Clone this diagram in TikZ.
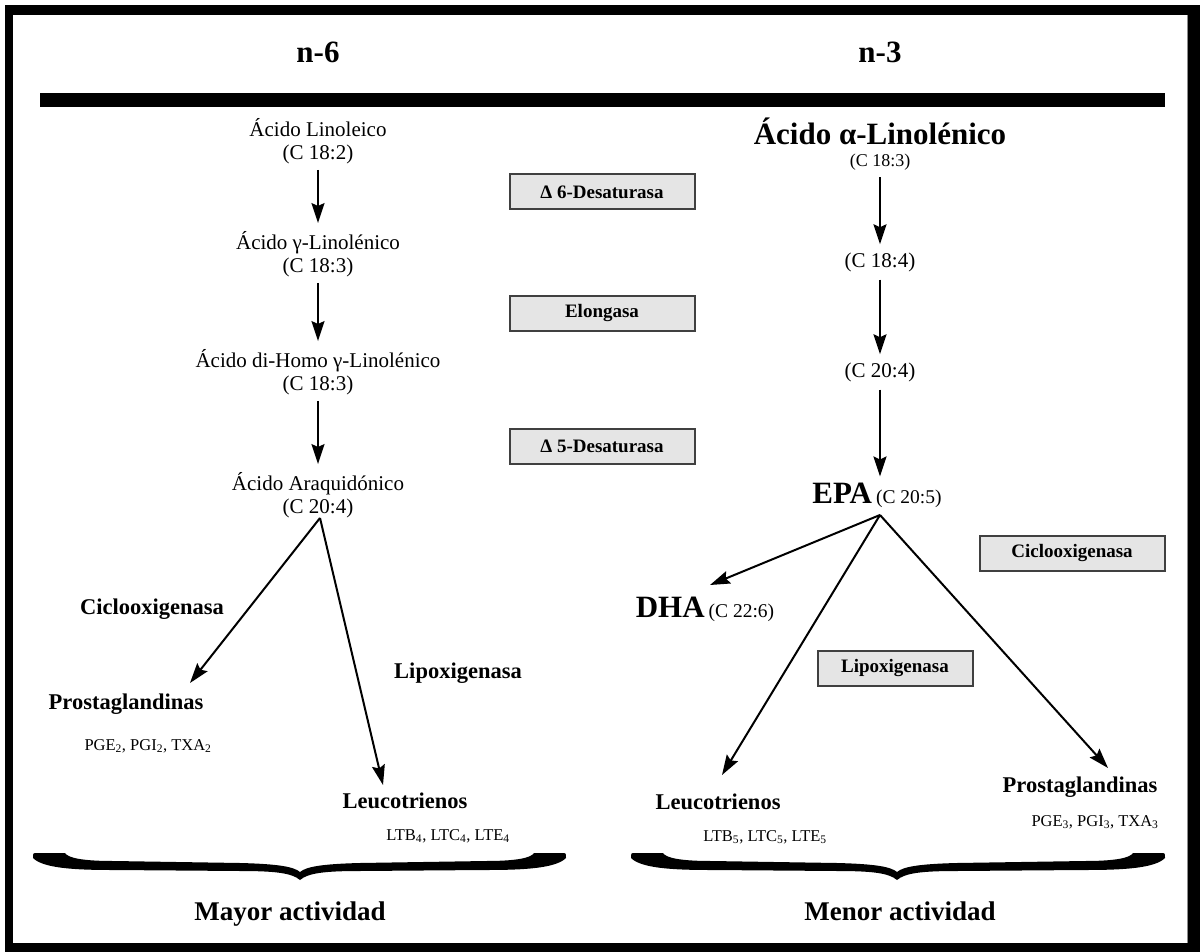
\documentclass[tikz,border=0pt]{standalone}
\usepackage{fontspec}
\setmainfont{Liberation Serif}
\usetikzlibrary{arrows.meta}
\begin{document}
\begin{tikzpicture}[x=1pt,y=-1pt,
  txt/.style={font=\fontsize{21}{23}\selectfont, align=center, inner sep=0pt},
  lbl/.style={font=\fontsize{22.5}{26}\selectfont\bfseries, inner sep=0pt},
  sml/.style={font=\fontsize{16.5}{19}\selectfont, inner sep=0pt},
  head/.style={font=\fontsize{31}{34}\selectfont\bfseries, inner sep=0pt},
  foot/.style={font=\fontsize{27}{31}\selectfont\bfseries, inner sep=0pt, anchor=base},
  enz/.style={draw=black!75, fill=black!10, line width=2pt, minimum width=185pt, minimum height=35pt, inner sep=0pt, font=\fontsize{19}{22}\selectfont\bfseries},
  arr/.style={-{Stealth[length=20pt,width=13pt,inset=3pt]}, line width=2pt}]
\useasboundingbox (0,0) rectangle (1200,952);
% frame
\fill[black] (5,5) rectangle (1200,952);
\fill[white] (13,15) rectangle (1188,943);
\draw[black!45, line width=1pt] (1187,15) -- (1187,943);
% headers
\node[head] (n6) at (318,52) {n-6};
\node[head] (n3) at (880,52) {n-3};
\fill[black] (40,93) rectangle (1165,107);
% left column
\node[txt] (L1) at (318,141) {Ácido Linoleico\\(C 18:2)};
\node[txt] (L2) at (318,254) {Ácido γ-Linolénico\\(C 18:3)};
\node[txt] (L3) at (318,372) {Ácido di-Homo γ-Linolénico\\(C 18:3)};
\node[txt] (L4) at (318,495) {Ácido Araquidónico\\(C 20:4)};
\draw[arr, shorten <=6pt, shorten >=8pt] (L1.south) -- (L2.north);
\draw[arr, shorten <=6pt, shorten >=8pt] (L2.south) -- (L3.north);
\draw[arr, shorten <=6pt, shorten >=8pt] (L3.south) -- (L4.north);
\node[lbl] (cicl) at (152,609) {Ciclooxigenasa};
\node[lbl] (lipl) at (458,673) {Lipoxigenasa};
\node[lbl] (pgl) at (126,704) {Prostaglandinas};
\node[sml] (pgls) at (148,746) {PGE\textsubscript{2}, PGI\textsubscript{2}, TXA\textsubscript{2}};
\node[lbl] (ltl) at (405,801) {Leucotrienos};
\node[sml] (ltls) at (448,836) {LTB\textsubscript{4}, LTC\textsubscript{4}, LTE\textsubscript{4}};
\coordinate (lfan) at (320,518);
\coordinate (pgltip) at (190,683);
\coordinate (ltltip) at (383,785);
\draw[arr] (lfan) -- (pgltip);
\draw[arr] (lfan) -- (ltltip);
% enzyme boxes
\node[enz] (d6) at (602,192) {Δ 6-Desaturasa};
\node[enz] (elo) at (602,313) {Elongasa};
\node[enz] (d5) at (602,446) {Δ 5-Desaturasa};
\node[enz] (cicr) at (1072,553) {Ciclooxigenasa};
\node[enz, minimum width=155pt] (lipr) at (895,668) {Lipoxigenasa};
% right column
\node[font=\fontsize{31}{34}\selectfont\bfseries, inner sep=0pt] (R1) at (880,131) {Ácido α-Linolénico};
\node[font=\fontsize{18}{20}\selectfont, inner sep=0pt] (R1b) at (880,162) {(C 18:3)};
\node[txt] (R2) at (880,262) {(C 18:4)};
\node[txt] (R3) at (880,372) {(C 20:4)};
\node[inner sep=0pt] (epa) at (877,495) {{\fontsize{31}{34}\selectfont\bfseries EPA}\hspace{4pt}{\fontsize{19.5}{22}\selectfont (C 20:5)}};
\draw[arr, shorten <=7pt, shorten >=8pt] (R1b.south) -- (R2.north);
\draw[arr, shorten <=8pt, shorten >=8pt] (R2.south) -- (R3.north);
\draw[arr, shorten <=8pt, shorten >=6pt] (R3.south) -- (R3.south |- epa.north);
\node[inner sep=0pt] (dha) at (705,609) {{\fontsize{31}{34}\selectfont\bfseries DHA}\hspace{4pt}{\fontsize{19.5}{22}\selectfont (C 22:6)}};
\node[lbl] (ltr) at (718,802) {Leucotrienos};
\node[sml] (ltrs) at (765,837) {LTB\textsubscript{5}, LTC\textsubscript{5}, LTE\textsubscript{5}};
\node[lbl] (pgr) at (1080,787) {Prostaglandinas};
\node[sml] (pgrs) at (1095,822) {PGE\textsubscript{3}, PGI\textsubscript{3}, TXA\textsubscript{3}};
\coordinate (rfan) at (880,515);
\coordinate (dhatip) at (710,585);
\coordinate (ltrtip) at (722,775);
\coordinate (pgrtip) at (1108,768);
\draw[arr] (rfan) -- (dhatip);
\draw[arr] (rfan) -- (ltrtip);
\draw[arr] (rfan) -- (pgrtip);
% braces
\foreach \xl/\xm/\xr in {33/300/566, 631/897/1165}{
  \fill[black] (\xl,858) .. controls (\xl,853) .. (\xl+4,853) -- (\xl+32,853)
    .. controls (\xl+35,858) and (\xl+50,861) .. (\xl+80,861)
    -- (\xm-60,863) .. controls (\xm-20,864) and (\xm-6,867) .. (\xm,872)
    .. controls (\xm+6,867) and (\xm+20,864) .. (\xm+60,863)
    -- (\xr-80,861) .. controls (\xr-50,861) and (\xr-35,858) .. (\xr-32,853)
    -- (\xr-4,853) .. controls (\xr,853) .. (\xr,858)
    .. controls (\xr-10,868) and (\xr-40,870) .. (\xr-80,870)
    -- (\xm+60,871) .. controls (\xm+25,871) and (\xm+8,873) .. (\xm,880)
    .. controls (\xm-8,873) and (\xm-25,871) .. (\xm-60,871)
    -- (\xl+80,870) .. controls (\xl+40,870) and (\xl+10,868) .. (\xl,858) -- cycle;
}
\node[foot] (mayor) at (290,920) {Mayor actividad};
\node[foot] (menor) at (900,920) {Menor actividad};
\end{tikzpicture}
\end{document}
